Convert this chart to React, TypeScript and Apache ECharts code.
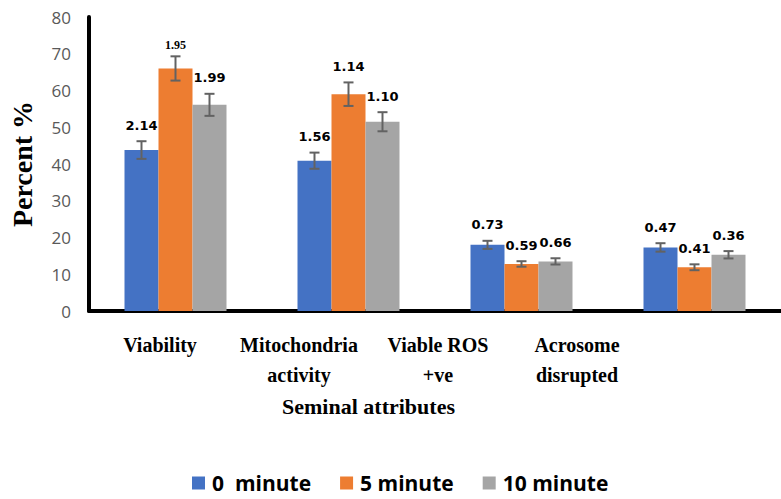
import React, { useEffect, useRef } from "react";
import * as echarts from "echarts";

const categories = ["Viability", "Mitochondria\nactivity", "Viable ROS\n+ve", "Acrosome\ndisrupted"];
const seriesNames = ["0  minute", "5 minute", "10 minute"];
const yTicks = [0, 10, 20, 30, 40, 50, 60, 70, 80];

const values0 = [43.8, 40.9, 18.0, 17.3];
const values5 = [66.0, 59.0, 12.8, 11.9];
const values10 = [56.1, 51.5, 13.5, 15.3];

const err0 = [2.4, 2.2, 1.1, 1.15];
const err5 = [3.3, 3.2, 0.75, 0.8];
const err10 = [3.0, 2.6, 0.85, 1.0];

const labels0 = ["2.14", "1.56", "0.73", "0.47"];
const labels5 = ["1.95", "1.14", "0.59", "0.41"];
const labels10 = ["1.99", "1.10", "0.66", "0.36"];

const colors = ["#4472C4", "#ED7D31", "#A5A5A5"];

export default function App() {
  const ref = useRef<HTMLDivElement>(null);
  useEffect(() => {
    document.body.style.margin = "0";
    document.body.style.overflow = "hidden";
    if (!ref.current) return;
    const chart = echarts.init(ref.current, null, { renderer: "svg" });
    const allValues = [values0, values5, values10];
    const allErr = [err0, err5, err10];
    const allLabels = [labels0, labels5, labels10];
    const errData: number[][] = [];
    const errLabels: string[] = [];
    allValues.forEach((vals, s) => {
      vals.forEach((v, i) => {
        errData.push([i, v, allErr[s][i], s]);
        errLabels.push(allLabels[s][i]);
      });
    });
    const barWidth = 34;

    chart.setOption({
      animation: false,
      grid: [
        { left: 87, width: 705, top: 17, bottom: 188 },
        { left: 90.5, width: 556, top: 17, bottom: 188 },
      ],
      legend: {
        data: seriesNames,
        left: 192,
        top: 472,
        padding: 0,
        icon: "rect",
        itemWidth: 13,
        itemHeight: 13,
        itemGap: 29,
        textStyle: {
          fontFamily: "Open Sans",
          fontWeight: "bold",
          fontSize: 21,
          lineHeight: 22,
          color: "#000",
          padding: [0, 0, 0, 2],
        },
      },
      xAxis: [
        {
          type: "category",
          gridIndex: 0,
          data: categories,
          axisLine: { show: true, lineStyle: { color: "#000", width: 4 } },
          axisTick: { show: false },
          axisLabel: { show: false },
        },
        {
          type: "category",
          gridIndex: 1,
          data: categories,
          axisLine: { show: false },
          axisTick: { show: false },
          axisLabel: {
            fontFamily: "Liberation Serif",
            fontWeight: "bold",
            fontSize: 20,
            lineHeight: 30,
            color: "#000",
            margin: 19,
            interval: 0,
          },
          name: "Seminal attributes",
          nameLocation: "middle",
          nameGap: 84,
          nameTextStyle: {
            fontFamily: "Liberation Serif",
            fontWeight: "bold",
            fontSize: 22,
            color: "#000",
          },
        },
      ],
      yAxis: [
        {
          type: "value",
          gridIndex: 0,
          min: 0,
          max: 80,
          interval: 10,
          axisLine: { show: true, lineStyle: { color: "#000", width: 4 } },
          axisTick: { show: false },
          splitLine: { show: false },
          axisLabel: {
            fontFamily: "Open Sans",
            fontSize: 17,
            color: "#595959",
            margin: 18,
            customValues: yTicks,
          },
          name: "Percent %",
          nameLocation: "middle",
          nameRotate: 90,
          nameGap: 53,
          nameTextStyle: {
            fontFamily: "Liberation Serif",
            fontWeight: "bold",
            fontSize: 28,
            color: "#000",
          },
        },
        { type: "value", gridIndex: 1, show: false, min: 0, max: 1 },
      ],
      series: [
        ...allValues.map((vals, s) => ({
          name: seriesNames[s],
          type: "bar",
          xAxisIndex: 0,
          yAxisIndex: 0,
          data: vals,
          barWidth,
          barGap: "0%",
          itemStyle: { color: colors[s] },
        })),
        {
          type: "custom",
          xAxisIndex: 0,
          yAxisIndex: 0,
          data: errData,
          encode: { x: 0, y: 1 },
          z: 10,
          renderItem: (params: any, api: any) => {
            const ci = api.value(0);
            const v = api.value(1);
            const e = api.value(2);
            const s = api.value(3);
            const top = api.coord([ci, v + e]);
            const bot = api.coord([ci, v - e]);
            const x = top[0] + (s - 1) * barWidth;
            const cap = 5;
            const stroke = { stroke: "#626262", lineWidth: 2 };
            const text = errLabels[params.dataIndex];
            const serif = s === 1 && ci === 0;
            return {
              type: "group",
              children: [
                { type: "line", shape: { x1: x, y1: top[1], x2: x, y2: bot[1] }, style: stroke },
                { type: "line", shape: { x1: x - cap, y1: top[1], x2: x + cap, y2: top[1] }, style: stroke },
                { type: "line", shape: { x1: x - cap, y1: bot[1], x2: x + cap, y2: bot[1] }, style: stroke },
                {
                  type: "text",
                  style: {
                    text,
                    x,
                    y: top[1] - (serif ? 11 : 16),
                    align: "center",
                    verticalAlign: "middle",
                    font: serif ? "bold 12px 'Liberation Serif'" : "bold 13px 'DejaVu Sans'",
                    fill: "#000",
                  },
                },
              ],
            };
          },
        },
      ],
    });
    return () => chart.dispose();
  }, []);
  return <div ref={ref} style={{ width: 781, height: 499 }} />;
}
